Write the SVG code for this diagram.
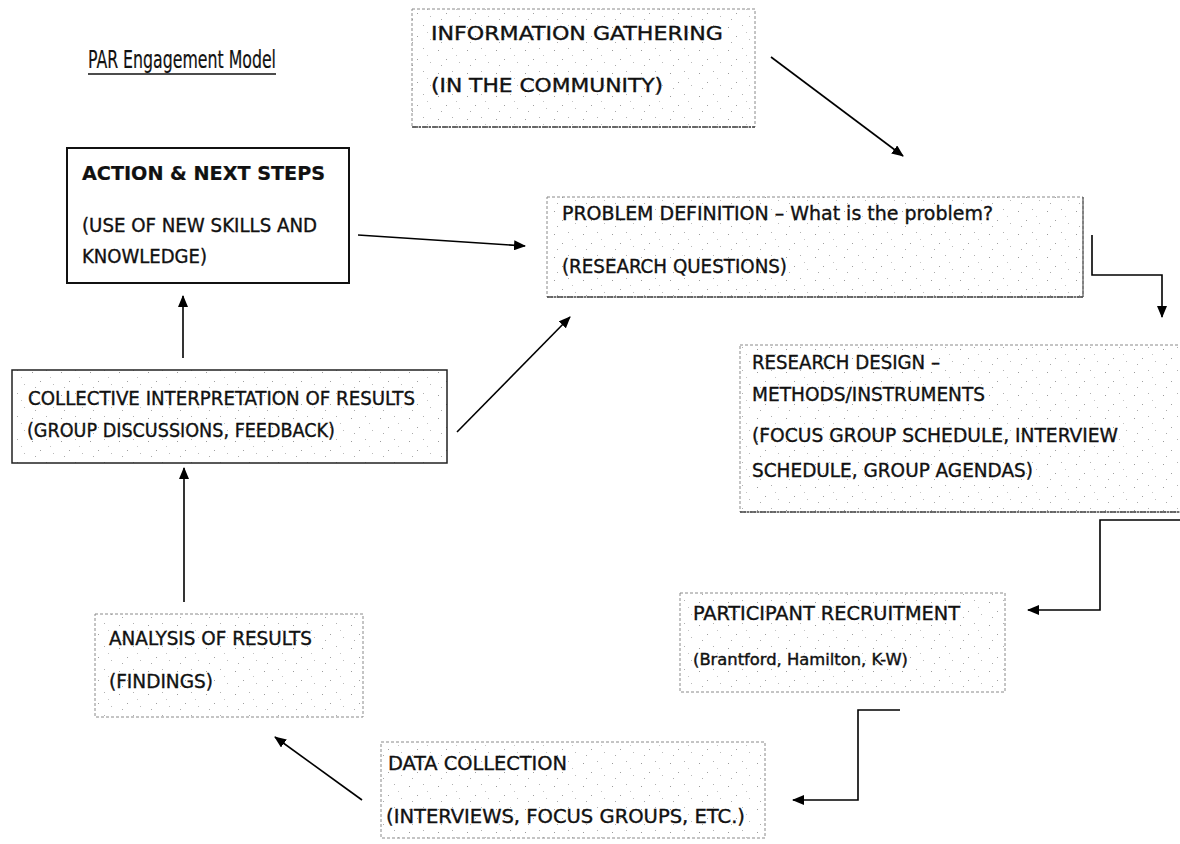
<svg xmlns="http://www.w3.org/2000/svg" width="1180" height="844" viewBox="0 0 1180 844">
  <defs>
    <marker id="ah" markerUnits="userSpaceOnUse" markerWidth="12" markerHeight="10" refX="11" refY="5" orient="auto">
      <path d="M0,0 L12,5 L0,10 Z" fill="#000"/>
    </marker>
    <pattern id="speck" width="29" height="23" patternUnits="userSpaceOnUse">
      <rect x="3" y="4" width="1" height="1" fill="#9a9a9a"/>
      <rect x="17" y="2" width="1" height="1" fill="#b0b0b0"/>
      <rect x="11" y="13" width="1" height="1" fill="#a0a0a0"/>
      <rect x="24" y="16" width="1" height="1" fill="#bbbbbb"/>
      <rect x="6" y="19" width="1" height="1" fill="#aaaaaa"/>
      <rect x="21" y="9" width="1" height="1" fill="#c4c4c4"/>
    </pattern>
    <style>
      .t { font-family: "Liberation Sans Narrow", "DejaVu Sans Condensed", "Liberation Sans", Arial, sans-serif; font-size: 20px; fill: #111; stroke: #111; stroke-width: 0.35px; }
      .b { font-weight: bold; stroke-width: 0.2px; }
      .s { font-size: 15px; }
      .ttl { font-size: 25px; stroke-width: 0.2px; }
      .dot { fill: url(#speck); stroke: #8a8a8a; stroke-width: 1; stroke-dasharray: 3 2; }
      .base { stroke: #444; stroke-width: 1.5; stroke-dasharray: 6 1 2 1; fill: none; }
      .solid { fill: #fff; stroke: #111; stroke-width: 2; }
      .solid2 { fill: url(#speck); stroke: #222; stroke-width: 1.5; }
      .c { fill: none; stroke: #000; stroke-width: 1.6; }
    </style>
  </defs>
  <rect width="1180" height="844" fill="#fff"/>

  <g id="title">
    <text class="t ttl" x="88" y="68" textLength="188" lengthAdjust="spacingAndGlyphs">PAR Engagement Model</text>
    <line x1="88" y1="74" x2="276" y2="74" stroke="#111" stroke-width="1.6"/>
  </g>

  <g id="info">
    <rect class="dot" x="412" y="9" width="343" height="118"/>
    <line class="base" x1="412" y1="127" x2="755" y2="127"/>
    <text class="t" x="431" y="40" textLength="292" lengthAdjust="spacingAndGlyphs">INFORMATION GATHERING</text>
    <text class="t" x="431" y="92" textLength="232" lengthAdjust="spacingAndGlyphs">(IN THE COMMUNITY)</text>
  </g>

  <g id="action">
    <rect class="solid" x="67" y="148" width="282" height="135"/>
    <text class="t b" x="82" y="180" textLength="243" lengthAdjust="spacingAndGlyphs">ACTION &amp; NEXT STEPS</text>
    <text class="t" x="82" y="232" textLength="235" lengthAdjust="spacingAndGlyphs">(USE OF NEW SKILLS AND</text>
    <text class="t" x="82" y="263" textLength="125" lengthAdjust="spacingAndGlyphs">KNOWLEDGE)</text>
  </g>

  <g id="problem">
    <rect class="dot" x="547" y="197" width="536" height="100"/>
    <line class="base" x1="547" y1="297" x2="1083" y2="297"/>
    <line x1="1083" y1="197" x2="1083" y2="297" stroke="#555" stroke-width="1.2"/>
    <text class="t" x="562" y="220" textLength="431" lengthAdjust="spacingAndGlyphs">PROBLEM DEFINITION – What is the problem?</text>
    <text class="t" x="562" y="273" textLength="225" lengthAdjust="spacingAndGlyphs">(RESEARCH QUESTIONS)</text>
  </g>

  <g id="research">
    <rect class="dot" x="740" y="345" width="445" height="167"/>
    <line class="base" x1="740" y1="512" x2="1180" y2="512"/>
    <text class="t" x="752" y="369" textLength="188" lengthAdjust="spacingAndGlyphs">RESEARCH DESIGN –</text>
    <text class="t" x="752" y="401" textLength="233" lengthAdjust="spacingAndGlyphs">METHODS/INSTRUMENTS</text>
    <text class="t" x="752" y="442" textLength="366" lengthAdjust="spacingAndGlyphs">(FOCUS GROUP SCHEDULE, INTERVIEW</text>
    <text class="t" x="752" y="477" textLength="281" lengthAdjust="spacingAndGlyphs">SCHEDULE, GROUP AGENDAS)</text>
  </g>

  <g id="collective">
    <rect class="solid2" x="12" y="370" width="435" height="93"/>
    <text class="t" x="28" y="405" textLength="387" lengthAdjust="spacingAndGlyphs">COLLECTIVE INTERPRETATION OF RESULTS</text>
    <text class="t" x="27" y="437" textLength="308" lengthAdjust="spacingAndGlyphs">(GROUP DISCUSSIONS, FEEDBACK)</text>
  </g>

  <g id="participant">
    <rect class="dot" x="680" y="593" width="325" height="99"/>
    <text class="t" x="693" y="620" textLength="267" lengthAdjust="spacingAndGlyphs">PARTICIPANT RECRUITMENT</text>
    <text class="t s" x="693" y="665" textLength="215" lengthAdjust="spacingAndGlyphs">(Brantford, Hamilton, K-W)</text>
  </g>

  <g id="analysis">
    <rect class="dot" x="95" y="614" width="268" height="103"/>
    <text class="t" x="109" y="645" textLength="203" lengthAdjust="spacingAndGlyphs">ANALYSIS OF RESULTS</text>
    <text class="t" x="109" y="688" textLength="104" lengthAdjust="spacingAndGlyphs">(FINDINGS)</text>
  </g>

  <g id="data">
    <rect class="dot" x="381" y="742" width="384" height="96"/>
    <text class="t" x="388" y="770" textLength="179" lengthAdjust="spacingAndGlyphs">DATA COLLECTION</text>
    <text class="t" x="386" y="823" textLength="359" lengthAdjust="spacingAndGlyphs">(INTERVIEWS, FOCUS GROUPS, ETC.)</text>
  </g>

  <g id="connectors">
    <line class="c" x1="771" y1="57" x2="903" y2="156" marker-end="url(#ah)"/>
    <line class="c" x1="358" y1="235" x2="525" y2="246" marker-end="url(#ah)"/>
    <path class="c" d="M1092,235 V275 H1162 V317" marker-end="url(#ah)"/>
    <path class="c" d="M1180,520 H1100 V610 H1028" marker-end="url(#ah)"/>
    <path class="c" d="M900,710 H858 V800 H793" marker-end="url(#ah)"/>
    <line class="c" x1="362" y1="800" x2="275" y2="737" marker-end="url(#ah)"/>
    <line class="c" x1="184" y1="602" x2="184" y2="468" marker-end="url(#ah)"/>
    <line class="c" x1="183" y1="358" x2="183" y2="296" marker-end="url(#ah)"/>
    <line class="c" x1="457" y1="432" x2="570" y2="317" marker-end="url(#ah)"/>
  </g>
</svg>
